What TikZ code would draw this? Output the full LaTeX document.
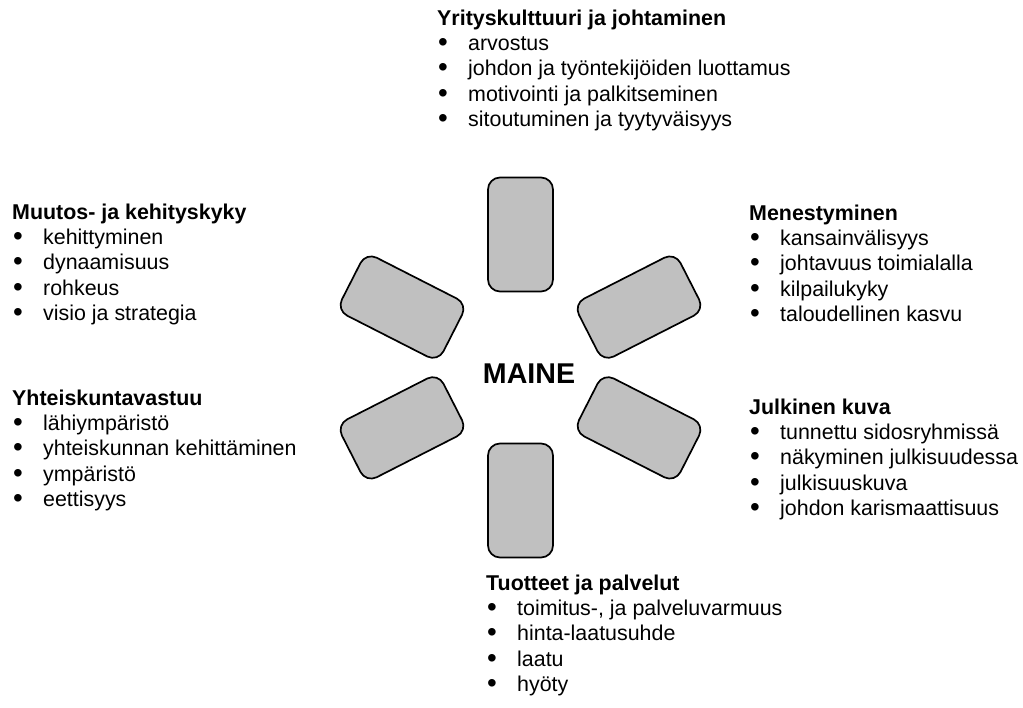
\documentclass[tikz,border=0pt]{standalone}
\usepackage{fontspec}
\setmainfont{Liberation Sans}
\usepackage{graphicx}
\usepackage{tikz}
\usetikzlibrary{calc}
\definecolor{petalfill}{RGB}{192,192,192}
\newcommand{\bitem}[1]{\makebox[31pt][l]{\hspace{1pt}\raisebox{-1pt}{\scalebox{1.3}{\textbullet}}}#1}

\begin{document}
\begin{tikzpicture}[
  x=1pt,y=-1pt,
  font=\fontsize{21.4}{25.2}\selectfont,
  petal/.style={draw=black,line width=1.7pt,fill=petalfill,rounded corners=12pt,minimum width=65pt,minimum height=114pt,inner sep=0pt},
  blk/.style={anchor=base west,inner sep=0pt}
]
\useasboundingbox[fill=white] (0,0) rectangle (1023,708);
% centre
\coordinate (c) at (520.5,367.5);
\node[font=\fontsize{28.6}{34}\selectfont\bfseries] (maine) at (529,374) {MAINE};
% petals
\foreach \ang [count=\i] in {90,27,333,270,207,153}
  \node[petal,rotate=\ang-90] (p\i) at ($(c)+(\ang:133pt)$) {};
% top
\node[blk] (kult) at (437,25.5) {\begin{tabular}[t]{@{}l@{}}
  \textbf{Yrityskulttuuri ja johtaminen}\\
  \bitem{arvostus}\\
  \bitem{johdon ja työntekijöiden luottamus}\\
  \bitem{motivointi ja palkitseminen}\\
  \bitem{sitoutuminen ja tyytyväisyys}
\end{tabular}};
% left
\node[blk] (muutos) at (12,219.5) {\begin{tabular}[t]{@{}l@{}}
  \textbf{Muutos- ja kehityskyky}\\
  \bitem{kehittyminen}\\
  \bitem{dynaamisuus}\\
  \bitem{rohkeus}\\
  \bitem{visio ja strategia}
\end{tabular}};
\node[blk] (yht) at (12,405.5) {\begin{tabular}[t]{@{}l@{}}
  \textbf{Yhteiskuntavastuu}\\
  \bitem{lähiympäristö}\\
  \bitem{yhteiskunnan kehittäminen}\\
  \bitem{ympäristö}\\
  \bitem{eettisyys}
\end{tabular}};
% right
\node[blk] (men) at (749,220.5) {\begin{tabular}[t]{@{}l@{}}
  \textbf{Menestyminen}\\
  \bitem{kansainvälisyys}\\
  \bitem{johtavuus toimialalla}\\
  \bitem{kilpailukyky}\\
  \bitem{taloudellinen kasvu}
\end{tabular}};
\node[blk] (julk) at (749,414.5) {\begin{tabular}[t]{@{}l@{}}
  \textbf{Julkinen kuva}\\
  \bitem{tunnettu sidosryhmissä}\\
  \bitem{näkyminen julkisuudessa}\\
  \bitem{julkisuuskuva}\\
  \bitem{johdon karismaattisuus}
\end{tabular}};
% bottom
\node[blk] (tuot) at (486,590.5) {\begin{tabular}[t]{@{}l@{}}
  \textbf{Tuotteet ja palvelut}\\
  \bitem{toimitus-, ja palveluvarmuus}\\
  \bitem{hinta-laatusuhde}\\
  \bitem{laatu}\\
  \bitem{hyöty}
\end{tabular}};
\end{tikzpicture}
\end{document}
